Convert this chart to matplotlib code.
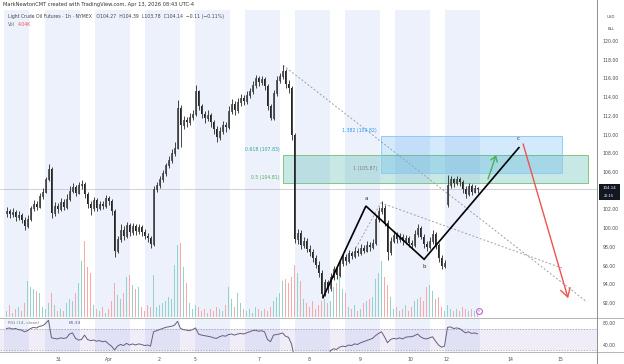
import matplotlib
matplotlib.use("Agg")
import matplotlib.pyplot as plt
import numpy as np
from matplotlib.patches import Rectangle
from matplotlib.lines import Line2D

# ---------------- data ----------------
closes = [101.8, 101.5, 101.7, 101.2, 101.4, 100.9, 100.2, 101.0, 102.1, 102.6,
          102.3, 103.4, 103.9, 105.2, 106.3, 101.6, 102.4, 102.0, 102.8, 102.3,
          103.1, 104.0, 104.4, 103.8, 104.6, 104.7, 103.6, 102.6, 102.1, 103.0,
          102.2, 102.6, 102.4, 103.2, 102.9, 101.8, 97.6, 98.8, 99.8, 99.2,
          100.3, 99.6, 100.2, 99.7, 100.1, 99.6, 99.2, 98.9, 98.3, 104.2,
          104.6, 105.2, 105.9, 106.7, 107.3, 108.0, 108.6, 112.8, 111.0, 111.6,
          111.3, 111.9, 112.2, 114.6, 113.0, 112.2, 111.8, 112.1, 111.3, 110.6,
          109.7, 110.4, 111.0, 110.8, 112.5, 113.3, 112.6, 113.5, 113.9, 113.6,
          114.2, 114.6, 115.3, 116.0, 115.6, 115.9, 115.2, 113.0, 111.8, 114.4,
          115.8, 116.2, 116.8, 115.4, 115.0, 110.0, 98.8, 99.5, 98.2, 98.6,
          97.8, 97.4, 96.8, 96.1, 95.2, 93.0, 94.2, 93.6, 94.8, 95.6,
          95.0, 96.3, 96.9, 96.5, 97.3, 97.0, 97.6, 97.3, 97.9, 97.6,
          98.2, 98.0, 98.4, 101.0, 101.8, 102.2, 100.6, 97.4, 98.6, 99.3,
          98.8, 99.1, 98.6, 98.9, 98.4, 98.2, 99.4, 100.0, 99.1, 98.3,
          98.0, 98.6, 99.4, 98.2, 96.8, 96.0, 96.3, 104.6, 105.2, 104.8,
          105.3, 104.9, 104.2, 103.6, 104.5, 103.9, 104.27, 104.14]

highs = [102.3, 102.0, 102.1, 101.9, 101.8, 101.6, 101.2, 101.4, 102.4, 103.0,
         102.9, 103.7, 104.3, 105.5, 106.8, 106.5, 102.8, 102.7, 103.2, 103.1,
         103.6, 104.5, 104.8, 104.6, 104.9, 105.1, 104.9, 103.9, 102.9, 103.3,
         103.2, 102.9, 102.9, 103.5, 103.4, 103.1, 102.0, 99.2, 100.4, 100.2,
         100.7, 100.6, 100.6, 100.4, 100.4, 100.3, 99.9, 99.5, 99.2, 104.5,
         104.9, 105.6, 106.2, 107.0, 107.7, 108.4, 109.2, 113.7, 113.2, 112.0,
         111.9, 112.3, 112.6, 115.3, 114.8, 113.3, 112.5, 112.6, 112.3, 111.6,
         110.9, 110.8, 111.4, 111.3, 113.0, 113.8, 113.6, 113.9, 114.3, 114.2,
         114.6, 115.0, 115.7, 116.4, 116.2, 116.3, 116.1, 115.4, 113.3, 114.8,
         116.2, 116.6, 117.4, 117.0, 115.8, 115.2, 110.2, 99.9, 99.8, 99.0,
         98.9, 98.2, 97.8, 97.1, 96.5, 95.5, 94.6, 94.5, 95.2, 96.0,
         95.9, 96.7, 97.3, 97.2, 97.7, 97.6, 98.0, 97.9, 98.3, 98.2,
         98.6, 98.5, 98.8, 101.4, 102.3, 102.9, 102.5, 100.9, 99.0, 99.7,
         99.6, 99.5, 99.4, 99.3, 99.2, 98.7, 99.8, 100.4, 100.2, 99.4,
         98.6, 99.0, 99.8, 99.6, 98.4, 97.1, 96.6, 105.7, 105.6, 105.4,
         105.6, 105.5, 105.1, 104.5, 104.8, 104.7, 104.6, 104.39]

lows = [101.2, 101.1, 101.2, 100.8, 100.9, 100.5, 99.8, 100.0, 100.8, 101.8,
        101.9, 102.1, 103.1, 103.7, 105.0, 101.1, 101.3, 101.6, 101.8, 101.9,
        102.0, 102.9, 103.7, 103.4, 103.6, 104.2, 103.2, 102.1, 101.4, 101.8,
        101.8, 101.9, 102.0, 102.2, 102.5, 101.4, 96.9, 97.3, 98.5, 98.7,
        98.9, 99.2, 99.3, 99.3, 99.4, 99.2, 98.8, 98.5, 97.9, 98.1,
        103.9, 104.3, 104.9, 105.6, 106.4, 107.0, 107.7, 108.4, 108.7, 110.6,
        110.8, 111.0, 111.5, 112.0, 112.6, 111.8, 111.2, 111.4, 110.8, 110.1,
        109.2, 109.4, 110.1, 110.3, 110.6, 112.2, 112.1, 112.3, 113.1, 113.2,
        113.3, 113.9, 114.3, 115.0, 115.2, 115.3, 114.8, 112.6, 111.5, 111.6,
        114.1, 115.5, 115.9, 115.0, 114.4, 109.4, 98.4, 98.3, 97.8, 97.9,
        97.4, 97.0, 96.4, 95.7, 94.8, 92.6, 92.8, 93.1, 93.3, 94.5,
        94.6, 94.8, 96.0, 96.1, 96.3, 96.7, 96.8, 97.0, 97.1, 97.3,
        97.4, 97.6, 97.8, 98.2, 100.7, 101.5, 100.2, 96.6, 97.1, 98.4,
        98.4, 98.5, 98.2, 98.3, 98.0, 97.8, 98.0, 99.1, 98.8, 97.9,
        97.6, 97.8, 98.3, 97.8, 96.4, 95.6, 95.7, 102.3, 104.3, 104.4,
        104.6, 104.5, 103.8, 103.2, 103.4, 103.5, 103.7, 103.78]

# session-open prices that differ from the previous close
gap_opens = {0: 101.6, 147: 102.6}

volumes_k = [3, 6, 2, 4, 5, 3, 7, 18, 15, 14,
             13, 12, 5, 4, 7, 12, 6, 3, 4, 3,
             7, 9, 8, 12, 17, 28, 38, 25, 22, 6,
             4, 3, 5, 2, 4, 8, 17, 11, 9, 12,
             20, 21, 16, 14, 15, 5, 3, 6, 5, 21,
             5, 6, 7, 8, 10, 9, 26, 36, 37, 25,
             17, 7, 4, 6, 5, 3, 4, 2, 4, 3,
             5, 4, 3, 6, 15, 9, 5, 12, 7, 4,
             3, 4, 2, 5, 4, 3, 4, 3, 5, 8,
             10, 12, 18, 19, 17, 20, 26, 22, 18, 9,
             7, 5, 8, 4, 6, 8, 9, 7, 8, 15,
             17, 22, 14, 12, 5, 4, 6, 3, 4, 7,
             8, 9, 10, 19, 22, 28, 20, 16, 10, 4,
             5, 3, 4, 6, 3, 5, 8, 9, 10, 8,
             15, 16, 13, 9, 10, 5, 3, 6, 4, 3,
             4, 3, 5, 4, 3, 4, 3, 4.04]

rsi = [70, 71, 69, 70, 68, 67, 64, 66, 70, 72,
       71, 74, 75, 79, 85, 53, 52, 51, 53, 52,
       53, 60, 62, 52, 49, 50, 58, 50, 48, 49,
       47, 48, 46, 47, 42, 38, 31, 38, 41, 39,
       43, 40, 42, 40, 42, 41, 39, 40, 38, 64,
       66, 68, 70, 72, 73, 74, 76, 83, 70, 68,
       67, 66, 68, 71, 60, 58, 57, 56, 55, 53,
       52, 55, 57, 56, 59, 60, 58, 60, 61, 60,
       62, 64, 66, 67, 65, 66, 64, 50, 46, 58,
       59, 60, 62, 56, 54, 42, 15, 17, 14, 15,
       13, 12, 11, 10, 8, 6, 12, 11, 30, 33,
       32, 36, 38, 37, 40, 39, 42, 41, 44, 46,
       48, 50, 52, 57, 61, 64, 55, 44, 50, 52,
       51, 53, 51, 54, 55, 55, 57, 60, 55, 52,
       51, 53, 55, 47, 40, 36, 38, 72, 73, 70,
       71, 70, 66, 62, 64, 61, 62, 60.33]

# sessions (bar index spans) and day labels
sessions = [(-0.8, 7.5), (12.8, 24.5), (29.5, 41.2), (46.2, 57.8), (62.8, 74.5),
            (79.5, 91.2), (96.2, 107.8), (112.8, 124.5), (129.5, 141.2), (146.2, 157.8)]
day_ticks = [17.4, 34.1, 50.8, 62.8, 84.2, 100.8, 117.8, 134.5, 146.5, 167.8, 184.5]
day_labels = ['31', 'Apr', '2', '5', '7', '8', '9', '10', '12', '14', '15']
# 104.00 is hidden behind the last-price tag, as on the reference
price_ticks = [92, 94, 96, 98, 100, 102, 106, 108, 110, 112, 114, 116, 118, 120]
rsi_ticks = [40, 80]

# drawings (bar index, price)
wave_x = [105.5, 119.8, 139.2, 170.8]
wave_y = [92.57, 102.36, 96.67, 108.6]
wave_labels = ['a', 'b', 'c']
green_arrow = [(160.5, 105.25), (163.2, 107.8)]
red_arrow = [(172.2, 109.0), (187.2, 92.5)]
trend_lines = [[(92.2, 117.4), (193.5, 92.1)],
               [(124.8, 102.7), (185.5, 95.7)],
               [(116.5, 97.9), (124.8, 102.7)]]
fib_box1 = (92.2, 193.8, 104.81, 107.83)
fib_box2 = (124.8, 185.2, 105.87, 109.82)
last_price = 104.14

# ---------------- figure ----------------
W, H = 624, 364
fig = plt.figure(figsize=(W / 100, H / 100), dpi=100)
plt.rcParams['font.family'] = ['DejaVu Sans']


def rect(x0, y0, x1, y1):
    return [x0 / W, 1 - y1 / H, (x1 - x0) / W, (y1 - y0) / H]


XL = (-2.167, 196.83)
SHADE = '#edf1fc'
TXT = '#4a4a4a'
CANDLE = '#262626'

idx = np.arange(len(closes))
c = np.array(closes)
o = np.array([gap_opens.get(i, closes[i - 1] if i > 0 else closes[0]) for i in idx])
hi = np.array(highs)
lo = np.array(lows)
up = c >= o

# background + volume axes
ax_bg = fig.add_axes(rect(0, 10, 597, 317))
ax_bg.set_zorder(1)
ax_bg.set_xlim(*XL)
ax_bg.set_ylim(0, 153.5)
for a, b in sessions:
    ax_bg.axvspan(a, b, color=SHADE, lw=0, zorder=0)
vcol = np.where(up, '#92d4cb', '#f6a9a8')
ax_bg.bar(idx, volumes_k, width=0.62, color=vcol, lw=0, zorder=1)
ax_bg.set_axis_off()

# price axes
ax = fig.add_axes(rect(0, 10, 597, 317))
ax.set_zorder(2)
ax.patch.set_visible(False)
ax.set_xlim(*XL)
ax.set_ylim(90.504, 123.303)
for s in ax.spines.values():
    s.set_visible(False)
ax.yaxis.tick_right()
ax.set_yticks(price_ticks)
ax.set_yticklabels([f'{v:.2f}' for v in price_ticks])
ax.tick_params(axis='y', length=0, pad=4, labelsize=3.3, labelcolor=TXT)
ax.set_xticks([])

# fib boxes
x0, x1, y0, y1 = fib_box1
ax.add_patch(Rectangle((x0, y0), x1 - x0, y1 - y0, facecolor='#26a69a', alpha=0.25,
                       lw=0, zorder=1))
ax.add_patch(Rectangle((x0, y0), x1 - x0, y1 - y0, facecolor='none', edgecolor='#81c784',
                       lw=0.7, zorder=1))
x0, x1, y0, y1 = fib_box2
ax.add_patch(Rectangle((x0, y0), x1 - x0, y1 - y0, facecolor='#2196f3', alpha=0.2,
                       lw=0, zorder=1))
ax.add_patch(Rectangle((x0, y0), x1 - x0, y1 - y0, facecolor='none', edgecolor='#90caf9',
                       lw=0.7, zorder=1))
ax.text(91.2, 108.35, '0.618 (107.83)', ha='right', va='center', fontsize=3.3, color='#26a69a')
ax.text(91.2, 105.46, '0.5 (104.81)', ha='right', va='center', fontsize=3.3, color='#4caf50')
ax.text(123.5, 110.38, '1.382 (109.82)', ha='right', va='center', fontsize=3.3, color='#2196f3')
ax.text(123.5, 106.42, '1 (105.87)', ha='right', va='center', fontsize=3.3, color='#787b86')

# current price line
ax.axhline(last_price, color='#9598a1', lw=0.6, ls=(0, (1.2, 1.2)), zorder=2)

# trend lines
for (xa, ya), (xb, yb) in trend_lines:
    ax.plot([xa, xb], [ya, yb], color='#a0a0a0', lw=0.7, ls=(0, (2, 2)), zorder=2)

# candles
ax.vlines(idx, lo, hi, color=CANDLE, lw=0.6, zorder=3)
bb = np.minimum(o, c)
bh = np.maximum(np.abs(c - o), 0.06)
ax.bar(idx[up], bh[up], bottom=bb[up], width=0.66, color='#cfcfcf', edgecolor=CANDLE,
       lw=0.5, zorder=4)
ax.bar(idx[~up], bh[~up], bottom=bb[~up], width=0.66, color=CANDLE, lw=0, zorder=4)

# wave
ax.plot(wave_x, wave_y, color='black', lw=1.2, zorder=6, solid_joinstyle='miter')
ax.text(wave_x[1], wave_y[1] + 0.55, wave_labels[0], ha='center', va='bottom', fontsize=4, color='#333')
ax.text(wave_x[2], wave_y[2] - 0.55, wave_labels[1], ha='center', va='top', fontsize=4, color='#333')
ax.text(wave_x[3] - 0.3, wave_y[3] + 0.7, wave_labels[2], ha='center', va='bottom', fontsize=4, color='#333')

# arrows
ax.annotate('', xy=green_arrow[1], xytext=green_arrow[0],
            arrowprops=dict(arrowstyle='->,head_length=0.45,head_width=0.3', color='#4caf50',
                            lw=1.0, shrinkA=0, shrinkB=0, mutation_scale=8), zorder=7)
ax.annotate('', xy=red_arrow[1], xytext=red_arrow[0],
            arrowprops=dict(arrowstyle='->,head_length=0.6,head_width=0.35', color='#ef5350',
                            lw=1.0, shrinkA=0, shrinkB=0, mutation_scale=10), zorder=7)

# event marker
ax.plot([157.5], [91.15], marker='o', ms=4.2, mfc='white', mec='#ba68c8', mew=0.8,
        clip_on=False, zorder=8)
ax.text(157.5, 91.15, 'e', ha='center', va='center', fontsize=2.6, color='#ba68c8', zorder=9)

# RSI pane
ax_r = fig.add_axes(rect(0, 318, 597, 352))
ax_r.set_xlim(*XL)
ax_r.set_ylim(27.27, 89.1)
for a, b in sessions:
    ax_r.axvspan(a, b, color=SHADE, lw=0, zorder=0)
ax_r.axhspan(30, 70, color='#7e57c2', alpha=0.1, lw=0, zorder=1)
ax_r.axhline(70, color='#9598a1', lw=0.5, ls=(0, (2, 2)), zorder=2)
ax_r.axhline(30, color='#9598a1', lw=0.5, ls=(0, (2, 2)), zorder=2)
ax_r.plot(idx, rsi, color='#675e78', lw=0.7, zorder=3)
for s in ax_r.spines.values():
    s.set_visible(False)
ax_r.yaxis.tick_right()
ax_r.set_yticks(rsi_ticks)
ax_r.set_yticklabels([f'{v:.2f}' for v in rsi_ticks])
ax_r.tick_params(axis='y', length=0, pad=4, labelsize=3.3, labelcolor=TXT)
ax_r.set_xticks(day_ticks)
ax_r.set_xticklabels(day_labels)
ax_r.tick_params(axis='x', length=0, pad=3.5, labelsize=3.3, labelcolor=TXT)
ax_r.text(0.013, 0.86, 'RSI (14, close)', transform=ax_r.transAxes, fontsize=3.2,
          color='#787b86', va='center')
ax_r.text(0.115, 0.86, f'{rsi[-1]:.2f}', transform=ax_r.transAxes, fontsize=3.2,
          color='#5b4a8a', va='center')


# separators
def hline(y, x0=0, x1=W, color='#b5b5b5', lw=0.7):
    fig.add_artist(Line2D([x0 / W, x1 / W], [1 - y / H, 1 - y / H], color=color, lw=lw))


hline(317.5)
hline(352.3)
fig.add_artist(Line2D([597 / W, 597 / W], [0, 1], color='#8f8f8f', lw=0.7))

# last-price tag
fig.add_artist(Rectangle((598.5 / W, 1 - 199.5 / H), 21 / W, 15.5 / H, facecolor='#131722',
                         edgecolor='none', zorder=10, transform=fig.transFigure))
fig.text(609 / W, 1 - 187.6 / H, f'{last_price:.2f}', ha='center', va='center', fontsize=2.8,
         color='white', zorder=11)
fig.text(609 / W, 1 - 195.6 / H, '26:15', ha='center', va='center', fontsize=2.5,
         color='white', zorder=11)
fig.text(611 / W, 1 - 17 / H, 'USD', ha='center', va='center', fontsize=2.9, color=TXT)
fig.text(611 / W, 1 - 29 / H, 'BLL', ha='center', va='center', fontsize=2.9, color=TXT)

# header
fig.text(3 / W, 1 - 4.5 / H, 'MarkNewtonCMT created with TradingView.com, Apr 13, 2026 08:43 UTC-4',
         fontsize=3.7, color='#333', va='center')
fig.text(8 / W, 1 - 16.5 / H,
         'Light Crude Oil Futures · 1h · NYMEX   O104.27  H104.39  L103.78  C104.14  −0.11 (−0.11%)',
         fontsize=3.3, color='#444', va='center')
fig.text(8 / W, 1 - 24 / H, 'Vol', fontsize=3.3, color='#666', va='center')
fig.text(18 / W, 1 - 24 / H, '4.04K', fontsize=3.3, color='#ef5350', va='center')

fig.savefig('out.png', dpi=100)
